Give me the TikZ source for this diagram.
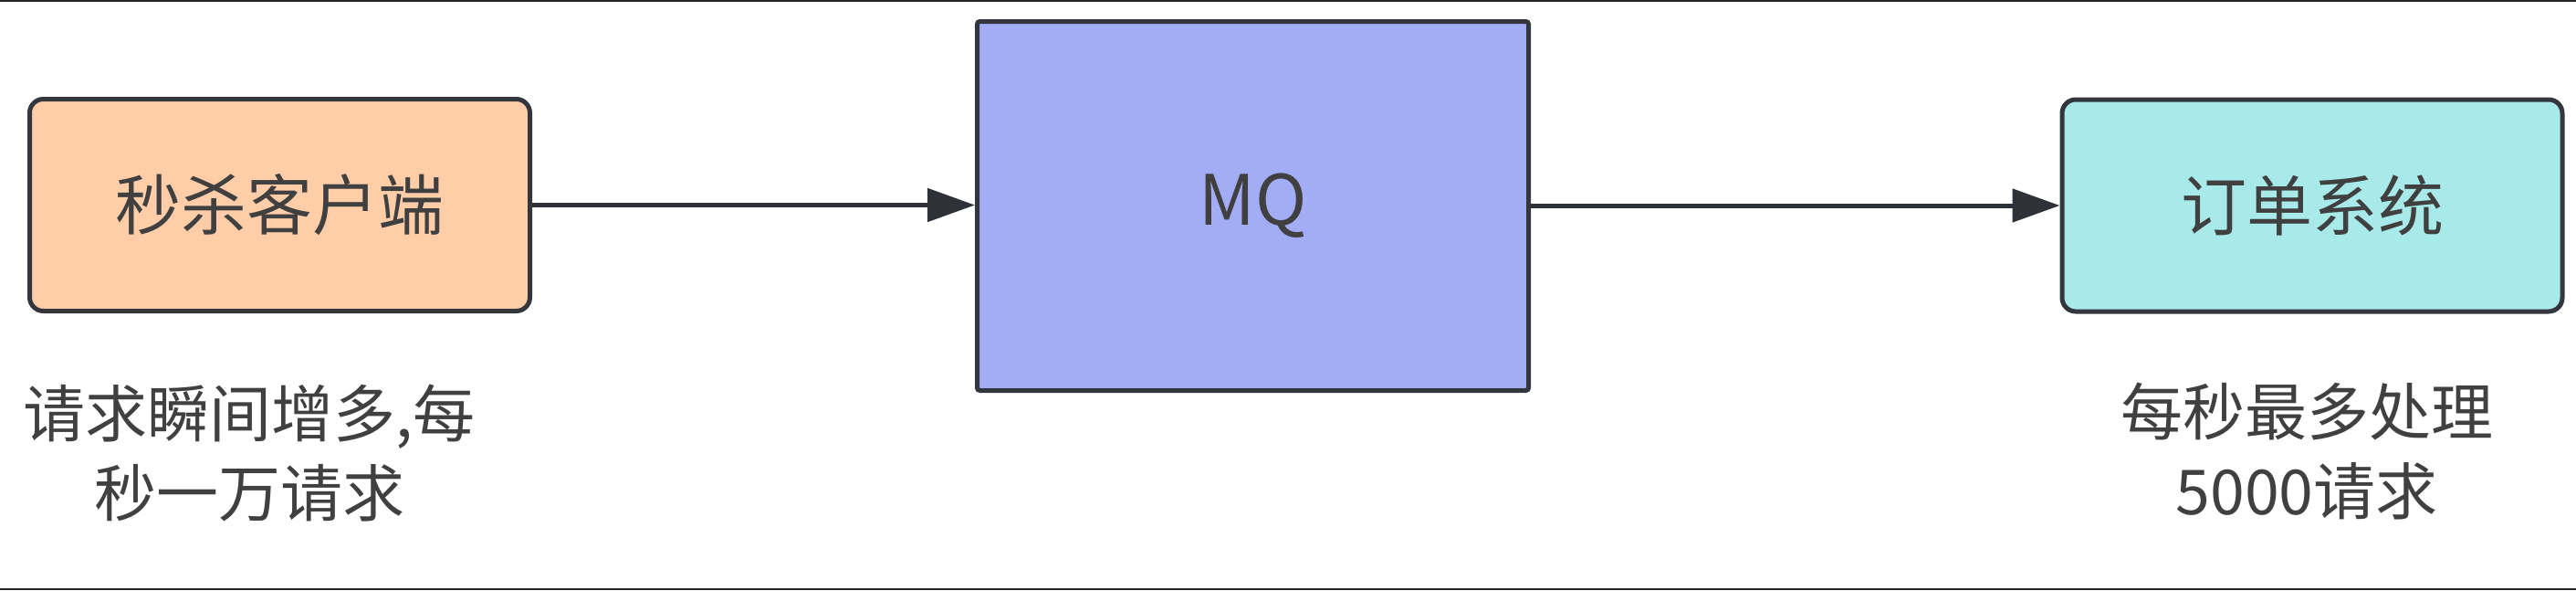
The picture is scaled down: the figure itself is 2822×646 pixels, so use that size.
\documentclass[tikz,border=0pt]{standalone}
\usepackage{fontspec}
\setmainfont{Noto Sans CJK SC}
\usetikzlibrary{arrows.meta}
\definecolor{peach}{HTML}{FFCEA8}
\definecolor{mqblue}{HTML}{A2ADF5}
\definecolor{cyanfill}{HTML}{A8EAEA}
\definecolor{edge}{HTML}{33373D}
\definecolor{txt}{HTML}{404040}
\begin{document}
\begin{tikzpicture}[x=1pt,y=-1pt,
  box/.style={draw=edge, line width=5pt, rounded corners=15pt, text=txt,
    inner sep=0pt, minimum width=548pt, minimum height=232pt,
    font=\fontsize{72}{86}\selectfont},
  mqbox/.style={draw=edge, line width=5pt, rounded corners=3pt, fill=mqblue, text=txt,
    inner sep=0pt, minimum width=604pt, minimum height=404pt,
    font=\fontsize{76}{90}\selectfont},
  note/.style={text=txt, align=center, inner sep=0pt,
    font=\fontsize{68}{87}\selectfont},
  conn/.style={draw=edge!90!black, line width=5pt, -{Triangle[length=52pt,width=36pt]}},
  frame/.style={draw=black!85, line width=2.5pt}]
\useasboundingbox (0,0) rectangle (2822,646);
\fill[white] (0,0) rectangle (2822,646);
\coordinate (tl) at (0,1);
\coordinate (tr) at (2822,1);
\coordinate (bl) at (0,645);
\coordinate (br) at (2822,645);
\draw[frame] (tl) -- (tr);
\draw[frame] (bl) -- (br);
\node[box, fill=peach] (client) at (306.5,224.5) {秒杀客户端};
\node[mqbox] (mq) at (1372.5,225.5) {MQ};
\node[box, fill=cyanfill] (order) at (2533,225) {订单系统};
\node[note] (n1) at (273,496) {请求瞬间增多,每\\秒一万请求};
\node[note] (n2) at (2527,494) {每秒最多处理\\5000请求};
\draw[conn] (client.east) -- (client.east -| mq.west);
\draw[conn] (mq.east |- order.west) -- (order.west);
\end{tikzpicture}
\end{document}
